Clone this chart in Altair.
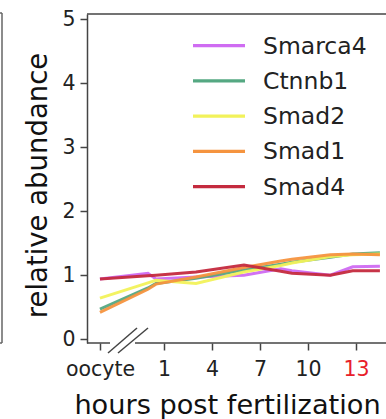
import altair as alt
import pandas as pd

# Expression time course (relative abundance) per gene
genes = ["Smarca4", "Ctnnb1", "Smad2", "Smad1", "Smad4"]
colors = ["#cf6cf2", "#55a882", "#f2f25a", "#f5943f", "#c42a3e"]
hours = [-3, 0, 0.5, 3, 6, 8.3, 9, 11.4, 12.8, 14.5]

smarca4 = [0.94, 1.03, 0.94, 0.97, 1.00, 1.10, 1.07, 1.00, 1.13, 1.14]
ctnnb1 = [0.47, 0.80, 0.87, 0.95, 1.08, 1.17, 1.20, 1.28, 1.33, 1.35]
smad2 = [0.64, 0.88, 0.92, 0.87, 1.05, 1.15, 1.19, 1.29, 1.32, 1.33]
smad1 = [0.42, 0.78, 0.86, 0.97, 1.12, 1.22, 1.25, 1.32, 1.33, 1.32]
smad4 = [0.94, 0.99, 1.00, 1.05, 1.16, 1.06, 1.03, 1.00, 1.07, 1.07]

# x axis ticks: the oocyte stage sits before the break, then hours
tick_hours = [-3, 1, 4, 7, 10, 13]
tick_labels = ["oocyte", "1", "4", "7", "10", "13"]
highlight_hour = 13

series = [smarca4, ctnnb1, smad2, smad1, smad4]
rows = []
for gi, (g, vals) in enumerate(zip(genes, series)):
    for h, v in zip(hours, vals):
        rows.append({"gene": g, "hour": h, "value": v, "gi": gi})
df = pd.DataFrame(rows)

W, H = 299, 329
FONT = "DejaVu Sans"
SPINE = "#444444"

label_map = " : ".join(
    f"datum.value == {h} ? '{t}'" for h, t in zip(tick_hours, tick_labels)
) + " : datum.label"

x_enc = alt.X(
    "hour:Q",
    scale=alt.Scale(domain=[-3.81, 14.88], nice=False, zero=False),
    axis=alt.Axis(
        values=tick_hours,
        labelExpr=label_map,
        labelColor=alt.expr(f"datum.value == {highlight_hour} ? '#e8202a' : '#222222'"),
        domain=False,
        grid=False,
        tickSize=7,
        tickWidth=1.5,
        tickColor=SPINE,
        labelFont=FONT,
        labelFontSize=20.5,
        labelPadding=9,
        labelFlush=False,
        title="hours post fertilization",
        titleFont=FONT,
        titleFontSize=27.2,
        titleFontWeight="normal",
        titleColor="#111111",
        titleX=140,
        titleY=70,
        titleAlign="center",
        titleBaseline="alphabetic",
    ),
)

y_enc = alt.Y(
    "value:Q",
    scale=alt.Scale(domain=[-0.06, 5.08], nice=False, zero=False),
    axis=alt.Axis(
        values=[0, 1, 2, 3, 4, 5],
        grid=False,
        domainColor=SPINE,
        domainWidth=1.5,
        tickSize=7,
        tickWidth=1.5,
        tickColor=SPINE,
        labelFont=FONT,
        labelFontSize=20.5,
        labelColor="#222222",
        labelPadding=5,
        title="relative abundance",
        titleFont=FONT,
        titleFontSize=27.5,
        titleFontWeight="normal",
        titleColor="#111111",
        titleAngle=270,
        titleX=-41,
        titleY=171,
        titleAlign="center",
        titleBaseline="alphabetic",
    ),
)

lines = (
    alt.Chart(df)
    .mark_line(strokeWidth=3, opacity=0.95)
    .encode(
        x=x_enc,
        y=y_enc,
        color=alt.Color(
            "gene:N",
            scale=alt.Scale(domain=genes, range=colors),
            sort=genes,
            legend=None,
        ),
        order=alt.Order("gi:Q"),
        detail="gene:N",
    )
)

one = alt.Data(values=[{"k": 0}])


def seg(x1, y1, x2, y2, color=SPINE, width=1.5):
    return alt.Chart(one).mark_rule(color=color, strokeWidth=width).encode(
        x=alt.value(x1), y=alt.value(y1), x2=alt.value(x2), y2=alt.value(y2)
    )


frame = [
    seg(0, 0, W, 0),            # top spine
    seg(0, H, 23, H),           # bottom spine before the break
    seg(48, H, W, H),           # bottom spine after the break
    seg(21, H + 10, 50, H - 15),  # break marks
    seg(31, H + 10, 61, H - 15),
    seg(-85, -1, -85, H, color="#666666"),  # edge of the neighbouring panel
    seg(-87, -1, -85, -1, color="#666666"),
    seg(-87, H, -85, H, color="#666666"),
]

# legend drawn inside the plot, one row per gene
legend = []
for i, (g, c) in enumerate(zip(genes, colors)):
    ry = 31.7 + i * 35.25
    legend.append(seg(106, ry, 158, ry, color=c, width=3.2))
    legend.append(
        alt.Chart(one)
        .mark_text(
            text=g, font=FONT, fontSize=23.5, color="#222222",
            align="left", baseline="middle",
        )
        .encode(x=alt.value(176), y=alt.value(ry + 1))
    )

chart = (
    alt.layer(lines, *frame, *legend)
    .properties(
        width=W,
        height=H,
        autosize=alt.AutoSizeParams(type="none"),
        padding={"left": 87, "top": 14, "right": 0, "bottom": 76},
    )
    .configure(font=FONT)
    .configure_view(stroke=None)
)

chart.save("out.html", embed_options={"renderer": "svg", "actions": False})
